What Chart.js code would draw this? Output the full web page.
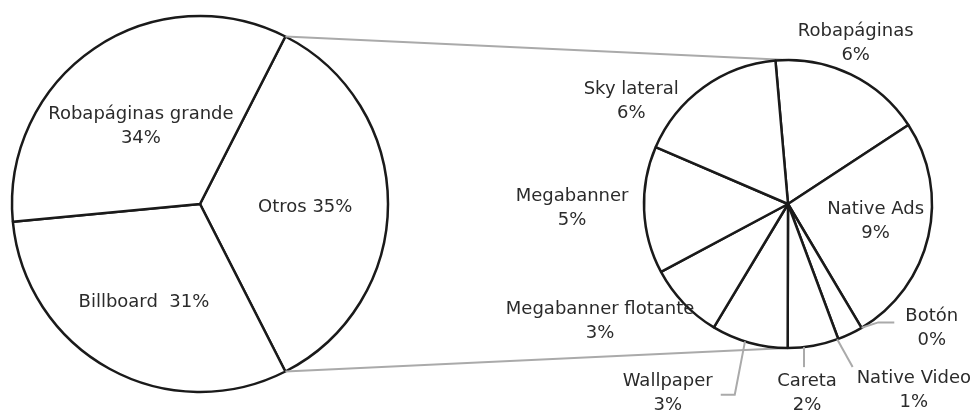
<!DOCTYPE html>
<html>
<head>
<meta charset="utf-8">
<script src="https://cdn.jsdelivr.net/npm/chart.js@4.4.1/dist/chart.umd.min.js"></script>
<style>
  html, body { margin: 0; padding: 0; background: #fff; }
  #wrap { position: relative; width: 978px; height: 413px; }
  #wrap canvas { position: absolute; left: 0; top: 0; }
</style>
</head>
<body>
<div id="wrap">
  <canvas id="mainPie" width="978" height="413"></canvas>
  <canvas id="otrosPie" width="978" height="413"></canvas>
</div>
<script>
const mainLabels = ['Otros', 'Billboard', 'Robapáginas grande'];
const mainValues = [35, 31, 34];

const otrosLabels = ['Robapáginas', 'Native Ads', 'Botón', 'Native Video', 'Careta',
  'Wallpaper', 'Megabanner flotante', 'Megabanner', 'Sky lateral'];
const otrosValues = [6, 9, 0, 1, 2, 3, 3, 5, 6];

// label placement: [radius factor, angle shift in degrees] from the middle of each slice
const mainPlace = [[0.56, 2], [0.6, 1], [0.52, -3]];
const mainJoin = [' ', '  ', '\n'];
const otrosPlace = [[1.21, -3], [0.62, -2], [1.32, -18.4], [1.56, -8.5], [1.32, 4.4],
  [1.56, 16.8], [1.54, 11.5], [1.5, 1.2], [1.3, -21]];
const otrosLeader = [null, null, {type: 'elbow', shift: 0}, {type: 'diag', shift: 5.6},
  {type: 'up'}, {type: 'hook', shift: 1.8}, null, null, null];

const FONT = '18px "DejaVu Sans"';
const TEXT = '#2b2b2b';
const EDGE = '#1a1a1a';
const GREY = '#aaa';
const LINE_H = 24;
const RAD = Math.PI / 180;

function edgeAt(arc, angle, f) {
  return {x: arc.x + Math.cos(angle) * arc.outerRadius * f, y: arc.y + Math.sin(angle) * arc.outerRadius * f};
}

function labelPlugin(id, texts, places, leaders) {
  return {
    id: id,
    afterDatasetsDraw(chart) {
      const ctx = chart.ctx;
      const arcs = chart.getDatasetMeta(0).data;
      ctx.save();
      ctx.font = FONT;
      ctx.fillStyle = TEXT;
      ctx.textAlign = 'center';
      ctx.textBaseline = 'middle';
      arcs.forEach((arc, i) => {
        const mid = (arc.startAngle + arc.endAngle) / 2;
        const p = edgeAt(arc, mid + places[i][1] * RAD, places[i][0]);
        const lines = texts[i].split('\n');
        const y1 = p.y - (lines.length - 1) * LINE_H / 2;
        lines.forEach((t, k) => ctx.fillText(t, p.x, y1 + k * LINE_H));

        const ld = leaders && leaders[i];
        if (!ld) return;
        const w = ctx.measureText(lines[0]).width;
        const left = p.x - w / 2, right = p.x + w / 2;
        ctx.beginPath();
        ctx.strokeStyle = GREY;
        ctx.lineWidth = 2;
        if (ld.type === 'up') {
          const x = p.x - 3;
          const dy = Math.sqrt(arc.outerRadius * arc.outerRadius - (x - arc.x) * (x - arc.x));
          ctx.moveTo(x, y1 - 14);
          ctx.lineTo(x, arc.y + dy);
        } else {
          const a = edgeAt(arc, mid + ld.shift * RAD, 1);
          if (ld.type === 'elbow') {
            ctx.moveTo(a.x, a.y);
            ctx.lineTo(left - 27, y1 + 6);
            ctx.lineTo(left - 11, y1 + 6);
          } else if (ld.type === 'diag') {
            ctx.moveTo(left - 4, y1 - 11);
            ctx.lineTo(a.x, a.y);
          } else if (ld.type === 'hook') {
            ctx.moveTo(right + 8, y1 + 13);
            ctx.lineTo(right + 22, y1 + 13);
            ctx.lineTo(a.x, a.y);
          }
        }
        ctx.stroke();
      });
      ctx.restore();
    }
  };
}

const baseOptions = {
  responsive: false,
  animation: false,
  events: [],
  plugins: { legend: { display: false }, tooltip: { enabled: false } }
};

const mainChart = new Chart(document.getElementById('mainPie'), {
  type: 'pie',
  data: {
    labels: mainLabels,
    datasets: [{
      data: mainValues,
      backgroundColor: '#fff',
      borderColor: EDGE,
      borderWidth: 2.5
    }]
  },
  options: Object.assign({}, baseOptions, {
    rotation: 27,
    radius: 188,
    layout: { padding: { left: 12, right: 590, top: 16, bottom: 21 } }
  }),
  plugins: [labelPlugin('mainText',
    mainLabels.map((l, i) => l + mainJoin[i] + mainValues[i] + '%'), mainPlace, null)]
});

// grey lines tying the "Otros" slice to the breakdown pie
const connectors = {
  id: 'connectors',
  beforeDatasetsDraw(chart) {
    const src = mainChart.getDatasetMeta(0).data[0];
    const dst = chart.getDatasetMeta(0).data[0];
    const a = edgeAt(src, src.startAngle, 1);
    const b = edgeAt(src, src.endAngle, 1);
    const ctx = chart.ctx;
    ctx.save();
    ctx.strokeStyle = GREY;
    ctx.lineWidth = 2;
    ctx.beginPath();
    ctx.moveTo(a.x, a.y);
    ctx.lineTo(dst.x, dst.y - dst.outerRadius);
    ctx.moveTo(b.x, b.y);
    ctx.lineTo(dst.x, dst.y + dst.outerRadius);
    ctx.stroke();
    ctx.restore();
  }
};

new Chart(document.getElementById('otrosPie'), {
  type: 'pie',
  data: {
    labels: otrosLabels,
    datasets: [{
      data: otrosValues,
      backgroundColor: '#fff',
      borderColor: EDGE,
      borderWidth: 2.5
    }]
  },
  options: Object.assign({}, baseOptions, {
    rotation: -5,
    radius: 144,
    layout: { padding: { left: 644, right: 46, top: 60, bottom: 65 } }
  }),
  plugins: [connectors, labelPlugin('otrosText',
    otrosLabels.map((l, i) => l + '\n' + otrosValues[i] + '%'), otrosPlace, otrosLeader)]
});
</script>
</body>
</html>
